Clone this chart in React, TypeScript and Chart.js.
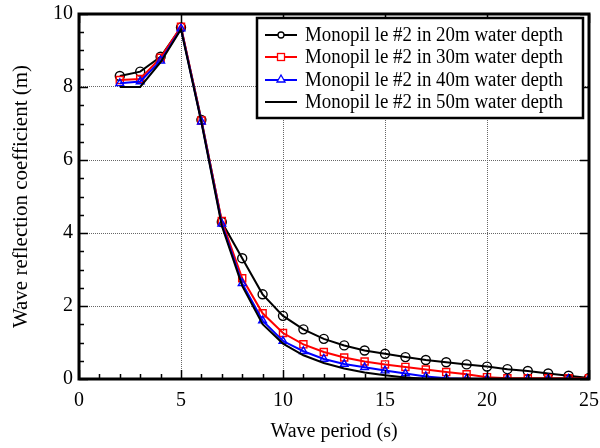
import React, { useEffect, useRef } from "react";
import { Chart, registerables } from "chart.js";

Chart.register(...registerables);

const periods = [2, 3, 4, 5, 6, 7, 8, 9, 10, 11, 12, 13, 14, 15, 16, 17, 18, 19, 20, 21, 22, 23, 24, 25];
const depth20 = [8.30, 8.42, 8.83, 9.63, 7.10, 4.30, 3.31, 2.32, 1.73, 1.36, 1.10, 0.92, 0.78, 0.69, 0.60, 0.52, 0.46, 0.40, 0.34, 0.27, 0.22, 0.15, 0.09, 0.03];
const depth30 = [8.19, 8.22, 8.80, 9.65, 7.08, 4.33, 2.76, 1.80, 1.26, 0.95, 0.74, 0.59, 0.48, 0.40, 0.33, 0.26, 0.19, 0.13, 0.05, 0.02, 0.02, 0.02, 0.02, 0.02];
const depth40 = [8.10, 8.15, 8.72, 9.60, 7.05, 4.25, 2.62, 1.60, 1.04, 0.76, 0.55, 0.41, 0.32, 0.23, 0.15, 0.07, 0.02, 0.01, 0, 0, 0, 0, 0, 0];
const depth50 = [8.00, 8.00, 8.68, 9.58, 7.03, 4.20, 2.55, 1.50, 0.97, 0.65, 0.44, 0.29, 0.18, 0.10, 0.04, 0.01, 0, 0, 0, 0, 0, 0, 0, 0];

const seriesLabels = [
  "Monopil le #2 in 20m water depth",
  "Monopil le #2 in 30m water depth",
  "Monopil le #2 in 40m water depth",
  "Monopil le #2 in 50m water depth",
];
const xTitle = "Wave period (s)";
const yTitle = "Wave reflection coefficient (m)";

const FONT = "'Liberation Serif', 'Times New Roman', serif";

const toPoints = (ys: number[]) => periods.map((x, i) => ({ x, y: ys[i] }));

const framePlugin = {
  id: "frameTicks",
  afterDatasetsDraw(chart: any) {
    const { ctx, chartArea, scales } = chart;
    const { left, right, top, bottom } = chartArea;
    const xs = scales.x;
    const ys = scales.y;
    ctx.save();
    ctx.strokeStyle = "#000";
    ctx.lineWidth = 1.5;
    ctx.beginPath();
    for (let v = 0; v <= 25; v += 1) {
      const px = Math.round(xs.getPixelForValue(v)) + 0.5;
      const major = v % 5 === 0;
      const len = major ? 9 : 5;
      ctx.moveTo(px, bottom);
      ctx.lineTo(px, bottom - len);
      if (major) {
        ctx.moveTo(px, top);
        ctx.lineTo(px, top + len);
      }
    }
    for (let v = 0; v <= 10.001; v += 0.5) {
      const py = Math.round(ys.getPixelForValue(v)) + 0.5;
      const major = Math.abs(v % 2) < 1e-6;
      const len = major ? 9 : 5;
      ctx.moveTo(left, py);
      ctx.lineTo(left + len, py);
      if (major) {
        ctx.moveTo(right, py);
        ctx.lineTo(right - len, py);
      }
    }
    ctx.stroke();
    ctx.lineWidth = 3;
    ctx.strokeRect(left, top, right - left, bottom - top);

    // legend
    const bx = 257, by = 18, bw = 326, bh = 100;
    ctx.fillStyle = "#fff";
    ctx.fillRect(bx, by, bw, bh);
    ctx.lineWidth = 2.5;
    ctx.strokeStyle = "#000";
    ctx.strokeRect(bx, by, bw, bh);
    const rowY = [35, 57, 80, 102];
    chart.data.datasets.forEach((ds: any, i: number) => {
      const y = rowY[i];
      ctx.strokeStyle = ds.borderColor;
      ctx.lineWidth = 2;
      ctx.beginPath();
      ctx.moveTo(265, y);
      ctx.lineTo(297, y);
      ctx.stroke();
      const cx = 281;
      ctx.lineWidth = 1.3;
      if (ds.pointStyle === "circle" && ds.pointRadius > 0) {
        ctx.fillStyle = "#fff";
        ctx.beginPath();
        ctx.arc(cx, y, 3, 0, Math.PI * 2);
        ctx.fill();
        ctx.stroke();
      } else if (ds.pointStyle === "rect" && ds.pointRadius > 0) {
        ctx.fillStyle = "#fff";
        ctx.fillRect(cx - 3.5, y - 3.5, 7, 7);
        ctx.strokeRect(cx - 3.5, y - 3.5, 7, 7);
      } else if (ds.pointStyle === "triangle" && ds.pointRadius > 0) {
        ctx.fillStyle = "#fff";
        ctx.beginPath();
        ctx.moveTo(cx, y - 5);
        ctx.lineTo(cx + 4, y + 2);
        ctx.lineTo(cx - 4, y + 2);
        ctx.closePath();
        ctx.fill();
        ctx.stroke();
      }
      ctx.fillStyle = "#000";
      ctx.font = `20px ${FONT}`;
      ctx.textAlign = "left";
      ctx.textBaseline = "middle";
      ctx.fillText(ds.label, 305, y + 1, 258);
    });
    ctx.restore();
  },
};

export default function App() {
  const ref = useRef<HTMLCanvasElement | null>(null);
  useEffect(() => {
    if (!ref.current) return;
    const common = {
      borderWidth: 2,
      pointBorderWidth: 1.4,
      pointBackgroundColor: "rgba(0,0,0,0)",
      tension: 0,
    };
    const chart = new Chart(ref.current, {
      type: "line",
      data: {
        datasets: [
          { ...common, label: seriesLabels[0], data: toPoints(depth20), borderColor: "#000", pointBorderColor: "#000", pointStyle: "circle", pointRadius: 4.5, order: 3 },
          { ...common, label: seriesLabels[1], data: toPoints(depth30), borderColor: "#ff0000", pointBorderColor: "#ff0000", pointStyle: "rect", pointRadius: 5, order: 2 },
          { ...common, label: seriesLabels[2], data: toPoints(depth40), borderColor: "#0000ff", pointBorderColor: "#0000ff", pointStyle: "triangle", pointRadius: 4.5, order: 1 },
          { ...common, label: seriesLabels[3], data: toPoints(depth50), borderColor: "#000", pointStyle: "circle", pointRadius: 0, order: 0 },
        ],
      },
      options: {
        responsive: false,
        animation: false,
        events: [],
        layout: { padding: { top: 14, right: 11, left: 0, bottom: 0 } },
        plugins: { legend: { display: false }, tooltip: { enabled: false } },
        scales: {
          x: {
            type: "linear",
            min: 0,
            max: 25,
            afterFit: (s: any) => { s.height = 69; s.paddingLeft = 0; s.paddingRight = 0; },
            ticks: { stepSize: 5, color: "#000", padding: 10, font: { family: FONT, size: 20 } },
            grid: { color: "#666", lineWidth: 1, drawTicks: false },
            border: { display: false, dash: [1, 1] },
            title: { display: true, text: xTitle, color: "#000", font: { family: FONT, size: 20 }, padding: { top: 4, bottom: 4 } },
          },
          y: {
            type: "linear",
            min: 0,
            max: 10,
            afterFit: (s: any) => { s.width = 79; s.paddingTop = 0; s.paddingBottom = 0; },
            ticks: { stepSize: 2, color: "#000", padding: 6, font: { family: FONT, size: 20 } },
            grid: { color: "#666", lineWidth: 1, drawTicks: false },
            border: { display: false, dash: [1, 1] },
            title: { display: true, text: yTitle, color: "#000", font: { family: FONT, size: 21 }, padding: { top: 9, bottom: 4 } },
          },
        },
      },
      plugins: [framePlugin],
    } as any);
    return () => chart.destroy();
  }, []);
  return (
    <div style={{ position: "fixed", left: 0, top: 0, width: 600, height: 448, background: "#fff" }}>
      <canvas ref={ref} width={600} height={448} style={{ display: "block" }} />
    </div>
  );
}
